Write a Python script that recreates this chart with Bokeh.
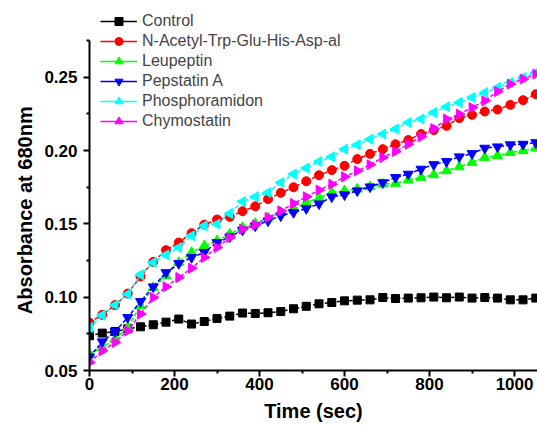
from bokeh.plotting import figure
from bokeh.models import Range1d, FixedTicker, Legend, LegendItem, NumeralTickFormatter
from bokeh.embed import file_html
from bokeh.resources import INLINE
import numpy as np

time_sec = [i * 30 for i in range(36)]

control = [0.0737, 0.0755, 0.0766, 0.0784, 0.0798, 0.0812, 0.0830, 0.0851, 0.0817, 0.0834,
           0.0855, 0.0871, 0.0892, 0.0889, 0.0894, 0.0902, 0.0921, 0.0938, 0.0955, 0.0964,
           0.0975, 0.0980, 0.0982, 0.0998, 0.0991, 0.0994, 0.0996, 0.1001, 0.0996, 0.1001,
           0.0994, 0.0998, 0.0994, 0.0982, 0.0982, 0.0994]
n_acetyl = [0.0827, 0.0880, 0.0946, 0.1025, 0.1141, 0.1241, 0.1321, 0.1373, 0.1437, 0.1495,
            0.1530, 0.1548, 0.1587, 0.1620, 0.1669, 0.1712, 0.1750, 0.1791, 0.1832, 0.1867,
            0.1896, 0.1942, 0.1978, 0.2010, 0.2044, 0.2072, 0.2113, 0.2140, 0.2169, 0.2222,
            0.2244, 0.2267, 0.2280, 0.2312, 0.2344, 0.2385]
leupeptin = [0.0612, 0.0657, 0.0714, 0.0793, 0.0941, 0.1066, 0.1146, 0.1237, 0.1305, 0.1351,
             0.1385, 0.1430, 0.1476, 0.1503, 0.1540, 0.1578, 0.1601, 0.1646, 0.1678, 0.1714,
             0.1726, 0.1737, 0.1753, 0.1771, 0.1776, 0.1799, 0.1817, 0.1835, 0.1862, 0.1889,
             0.1919, 0.1953, 0.1965, 0.1987, 0.1999, 0.2017]
pepstatin = [0.0593, 0.0696, 0.0766, 0.0862, 0.0971, 0.1071, 0.1168, 0.1230, 0.1271, 0.1306,
             0.1373, 0.1412, 0.1458, 0.1487, 0.1521, 0.1555, 0.1578, 0.1605, 0.1637, 0.1685,
             0.1699, 0.1726, 0.1753, 0.1782, 0.1817, 0.1840, 0.1874, 0.1905, 0.1926, 0.1958,
             0.1980, 0.2017, 0.2026, 0.2040, 0.2044, 0.2055]
phosphoramidon = [0.0793, 0.0878, 0.0946, 0.1021, 0.1153, 0.1237, 0.1289, 0.1339, 0.1419, 0.1487,
                  0.1499, 0.1571, 0.1653, 0.1685, 0.1714, 0.1782, 0.1840, 0.1881, 0.1926, 0.1958,
                  0.2010, 0.2040, 0.2078, 0.2113, 0.2147, 0.2192, 0.2215, 0.2260, 0.2299, 0.2328,
                  0.2362, 0.2396, 0.2430, 0.2465, 0.2499, 0.2533]
chymostatin = [0.0555, 0.0634, 0.0691, 0.0771, 0.0885, 0.0998, 0.1071, 0.1134, 0.1198, 0.1271,
               0.1339, 0.1407, 0.1465, 0.1494, 0.1544, 0.1589, 0.1639, 0.1685, 0.1731, 0.1771,
               0.1821, 0.1862, 0.1903, 0.1953, 0.1994, 0.2044, 0.2094, 0.2150, 0.2215, 0.2249,
               0.2294, 0.2340, 0.2403, 0.2454, 0.2488, 0.2522]

labels = ["Control", "N-Acetyl-Trp-Glu-His-Asp-al", "Leupeptin", "Pepstatin A",
          "Phosphoramidon", "Chymostatin"]
x_ticks = [0, 200, 400, 600, 800, 1000]
y_ticks = [0.05, 0.10, 0.15, 0.20, 0.25]

series = [control, n_acetyl, leupeptin, pepstatin, phosphoramidon, chymostatin]
colors = ["#000000", "#FF0000", "#00FF00", "#0000FF", "#00FFFF", "#FF00FF"]
markers = ["square", "circle", "triangle", "inverted_triangle", "triangle", "triangle"]
angles = [0, 0, 0, 0, np.pi / 2, -np.pi / 2]
sizes = [8, 9, 10, 10, 10, 10]

FONT = "Liberation Sans"

p = figure(width=537, height=425, output_backend="svg", toolbar_location=None,
           x_range=Range1d(0, 1054), y_range=Range1d(0.05, 0.299),
           min_border_left=89, min_border_top=5, min_border_right=0, min_border_bottom=55)
p.outline_line_color = None
p.xgrid.visible = False
p.ygrid.visible = False
p.background_fill_color = "white"

items = []
for lab, ys, c, m, a, s in zip(labels, series, colors, markers, angles, sizes):
    p.line(time_sec, ys, line_color=c, line_width=1.5, line_dash="4 2")
    sr = p.scatter(time_sec, ys, marker=m, size=s, angle=a, fill_color=c, line_color=c)
    # solid line used only as the legend swatch (no visible data)
    legend_line = p.line(x=[np.nan], y=[np.nan], line_color=c, line_width=1.5)
    items.append(LegendItem(label=lab, renderers=[legend_line, sr]))

p.xaxis.ticker = FixedTicker(ticks=x_ticks, minor_ticks=[100, 300, 500, 700, 900])
p.yaxis.ticker = FixedTicker(ticks=y_ticks, minor_ticks=[0.075, 0.125, 0.175, 0.225, 0.275])
p.yaxis.formatter = NumeralTickFormatter(format="0.00")
p.xaxis.formatter = NumeralTickFormatter(format="0")
p.yaxis.bounds = (0.05, 0.275)

for ax in (p.xaxis, p.yaxis):
    ax.axis_line_width = 2
    ax.axis_line_color = "black"
    ax.major_tick_line_width = 2
    ax.minor_tick_line_width = 2
    ax.major_tick_line_color = "black"
    ax.minor_tick_line_color = "black"
    ax.major_tick_out = 6
    ax.major_tick_in = 0
    ax.minor_tick_out = 3
    ax.minor_tick_in = 0
    ax.major_label_text_font = FONT
    ax.major_label_text_font_style = "bold"
    ax.major_label_text_font_size = "17px"
    ax.major_label_text_color = "black"
    ax.axis_label_text_font = FONT
    ax.axis_label_text_font_style = "bold"
    ax.axis_label_text_font_size = "20px"
    ax.axis_label_text_color = "black"

p.xaxis.axis_label = "Time (sec)"
# trailing no-break spaces shift the rotated title down to centre it on the drawn axis
p.yaxis.axis_label = "Absorbance at 680nm" + "\u00a0" * 8
p.xaxis.major_label_standoff = 1
p.xaxis.axis_label_standoff = 7
p.yaxis.major_label_standoff = 6
p.yaxis.axis_label_standoff = 5

legend = Legend(items=items, location=(11, 239), padding=0, margin=0, spacing=0,
                glyph_width=37, glyph_height=20, label_height=20, label_standoff=5,
                label_text_font=FONT, label_text_font_size="16px",
                background_fill_alpha=0, border_line_color=None)
p.add_layout(legend)

open("out.html", "w").write(file_html(p, INLINE))
